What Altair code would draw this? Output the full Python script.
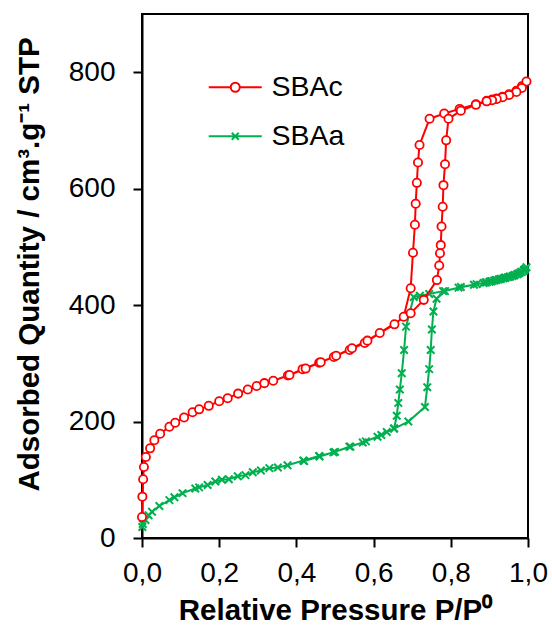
import altair as alt
import pandas as pd

# ---- data ----
samples = ["SBAc", "SBAa"]
colors = ["#FF0000", "#00B050"]

sbac_ads_p = [0.000, 0.001, 0.003, 0.005, 0.010, 0.021, 0.032, 0.047, 0.071, 0.086,
              0.109, 0.131, 0.148, 0.173, 0.200, 0.222, 0.249, 0.274, 0.297, 0.317,
              0.340, 0.378, 0.416, 0.459, 0.497, 0.538, 0.577, 0.616, 0.654, 0.678,
              0.696, 0.702, 0.707, 0.709, 0.712, 0.715, 0.719, 0.745, 0.783, 0.823,
              0.865, 0.893, 0.907, 0.919, 0.934, 0.951, 0.970, 0.984, 0.996]
sbac_ads_q = [36, 71, 101, 122, 139, 154, 168, 179, 191, 198,
              207, 216, 221, 227, 235, 240, 248, 255, 261, 266,
              270, 279, 290, 301, 311, 323, 335, 352, 367, 380,
              429, 490, 538, 574, 610, 645, 675, 720, 729, 737,
              745, 751, 753, 755, 758, 762, 768, 776, 784]
sbac_des_p = [0.984, 0.970, 0.951, 0.934, 0.919, 0.907, 0.893, 0.865, 0.826, 0.794,
              0.788, 0.785, 0.781, 0.779, 0.776, 0.774, 0.772, 0.770, 0.764, 0.730,
              0.696, 0.584, 0.544, 0.503, 0.463, 0.424, 0.382]
sbac_des_q = [773, 766, 761, 757, 754, 752, 750, 744, 734, 720,
              683, 642, 606, 569, 535, 503, 489, 468, 443, 409,
              386, 339, 326, 313, 302, 291, 280]

sbaa_ads_p = [0.001, 0.002, 0.009, 0.017, 0.026, 0.045, 0.071, 0.084, 0.105, 0.138,
              0.148, 0.170, 0.190, 0.207, 0.225, 0.248, 0.268, 0.287, 0.308, 0.330,
              0.352, 0.377, 0.418, 0.459, 0.496, 0.537, 0.572, 0.610, 0.634, 0.653,
              0.690, 0.733, 0.739, 0.744, 0.748, 0.751, 0.755, 0.763, 0.785, 0.826,
              0.867, 0.885, 0.893, 0.900, 0.906, 0.912, 0.918, 0.924, 0.930, 0.936,
              0.942, 0.948, 0.954, 0.960, 0.966, 0.972, 0.978, 0.984, 0.989, 0.993,
              0.996]
sbaa_ads_q = [19, 24, 31, 39, 45, 55, 65, 70, 77, 85,
              87, 91, 97, 100, 101, 106, 108, 113, 116, 120,
              121, 125, 133, 141, 147, 157, 164, 174, 182, 188,
              200, 225, 259, 290, 323, 358, 389, 411, 424, 431,
              436, 438, 439, 440, 441, 442, 443, 444, 445, 446,
              447, 448, 449, 450, 452, 453, 455, 457, 459, 462,
              465]
sbaa_des_p = [0.990, 0.982, 0.974, 0.964, 0.952, 0.940, 0.928, 0.916, 0.904, 0.890,
              0.860, 0.820, 0.780, 0.744, 0.720, 0.704, 0.684, 0.679, 0.673, 0.668,
              0.664, 0.660, 0.653, 0.620, 0.580, 0.540, 0.500, 0.460, 0.420]
sbaa_des_q = [461, 457, 454, 451, 449, 447, 445, 443, 441, 439,
              435, 430, 424, 419, 416, 414, 363, 323, 283, 255,
              232, 210, 188, 177, 166, 157, 148, 140, 132]

x_ticks = [0.0, 0.2, 0.4, 0.6, 0.8, 1.0]
y_ticks = [0, 200, 400, 600, 800]

# ---- table ----
rows = []
for name, ps, qs in [("SBAc", sbac_ads_p + sbac_des_p, sbac_ads_q + sbac_des_q),
                     ("SBAa", sbaa_ads_p + sbaa_des_p, sbaa_ads_q + sbaa_des_q)]:
    for i, (p, q) in enumerate(zip(ps, qs)):
        rows.append({"sample": name, "P": p, "Q": q, "idx": i})
df = pd.DataFrame(rows)

FONT = "Liberation Sans"
RED, GREEN = colors

circle_leg = "M-2.65,0H-0.45M0.45,0H2.65M0.45,0A0.45,0.45,0,1,1,-0.45,0A0.45,0.45,0,1,1,0.45,0"
cross_leg = "M-2.65,0H2.65M-0.35,-0.35L0.35,0.35M-0.35,0.35L0.35,-0.35"
x_shape = "M-1,-1L1,1M-1,1L1,-1"

x_enc = alt.X("P:Q", scale=alt.Scale(domain=[0, 1], nice=False),
              axis=alt.Axis(values=x_ticks,
                            labelExpr="replace(format(datum.value, '.1f'), '.', ',')",
                            title="Relative Pressure P/P⁰", labelFlush=False,
                            labelPadding=12, titlePadding=9))
y_enc = alt.Y("Q:Q", scale=alt.Scale(domain=[0, 900], nice=False),
              axis=alt.Axis(values=y_ticks, title="Adsorbed Quantity / cm³.g⁻¹ STP",
                            labelPadding=18, titlePadding=24, titleY=250))

base = alt.Chart(df)


def legend_for(symbol, ly):
    return alt.Legend(orient="none", legendX=79, legendY=ly, title=None,
                      labelFont=FONT, labelFontSize=28.5, labelColor="black",
                      symbolType=symbol, symbolSize=400, symbolStrokeWidth=2,
                      symbolFillColor="white", labelOffset=22, padding=0)


line_c = base.transform_filter(alt.datum.sample == "SBAc").mark_line(strokeWidth=2).encode(
    x=x_enc, y=y_enc,
    color=alt.Color("sample:N", scale=alt.Scale(domain=[samples[0]], range=[RED]),
                    legend=legend_for(circle_leg, 59)),
    order="idx:Q",
)
line_a = base.transform_filter(alt.datum.sample == "SBAa").mark_line(strokeWidth=2).encode(
    x="P:Q", y="Q:Q",
    color=alt.Color("sample:N", scale=alt.Scale(domain=[samples[1]], range=[GREEN]),
                    legend=legend_for(cross_leg, 108)),
    order="idx:Q",
)

red_pts = base.transform_filter(alt.datum.sample == "SBAc").mark_point(
    shape="circle", size=68, filled=True, fill="white", stroke=RED,
    strokeWidth=1.8, opacity=1).encode(x="P:Q", y="Q:Q")

green_pts = base.transform_filter(alt.datum.sample == "SBAa").mark_point(
    shape=x_shape, size=56, filled=False, stroke=GREEN,
    strokeWidth=2, opacity=1).encode(x="P:Q", y="Q:Q")

chart = alt.layer(line_a, green_pts, line_c, red_pts).resolve_scale(
    color="independent"
).resolve_legend(color="independent").properties(
    width=386, height=524,
    autosize=alt.AutoSizeParams(type="none"),
    padding={"left": 142, "top": 14, "right": 24, "bottom": 88},
    background="white",
).configure_view(stroke="black", strokeWidth=2).configure_axis(
    grid=False, domainColor="black", domainWidth=2, tickColor="black", tickWidth=2,
    tickSize=9, labelFont=FONT, labelFontSize=28, labelColor="black",
    titleFont=FONT, titleFontSize=29.5, titleFontWeight="bold", titleColor="black",
)

chart.save("out.html", embed_options={"renderer": "svg", "actions": False})
